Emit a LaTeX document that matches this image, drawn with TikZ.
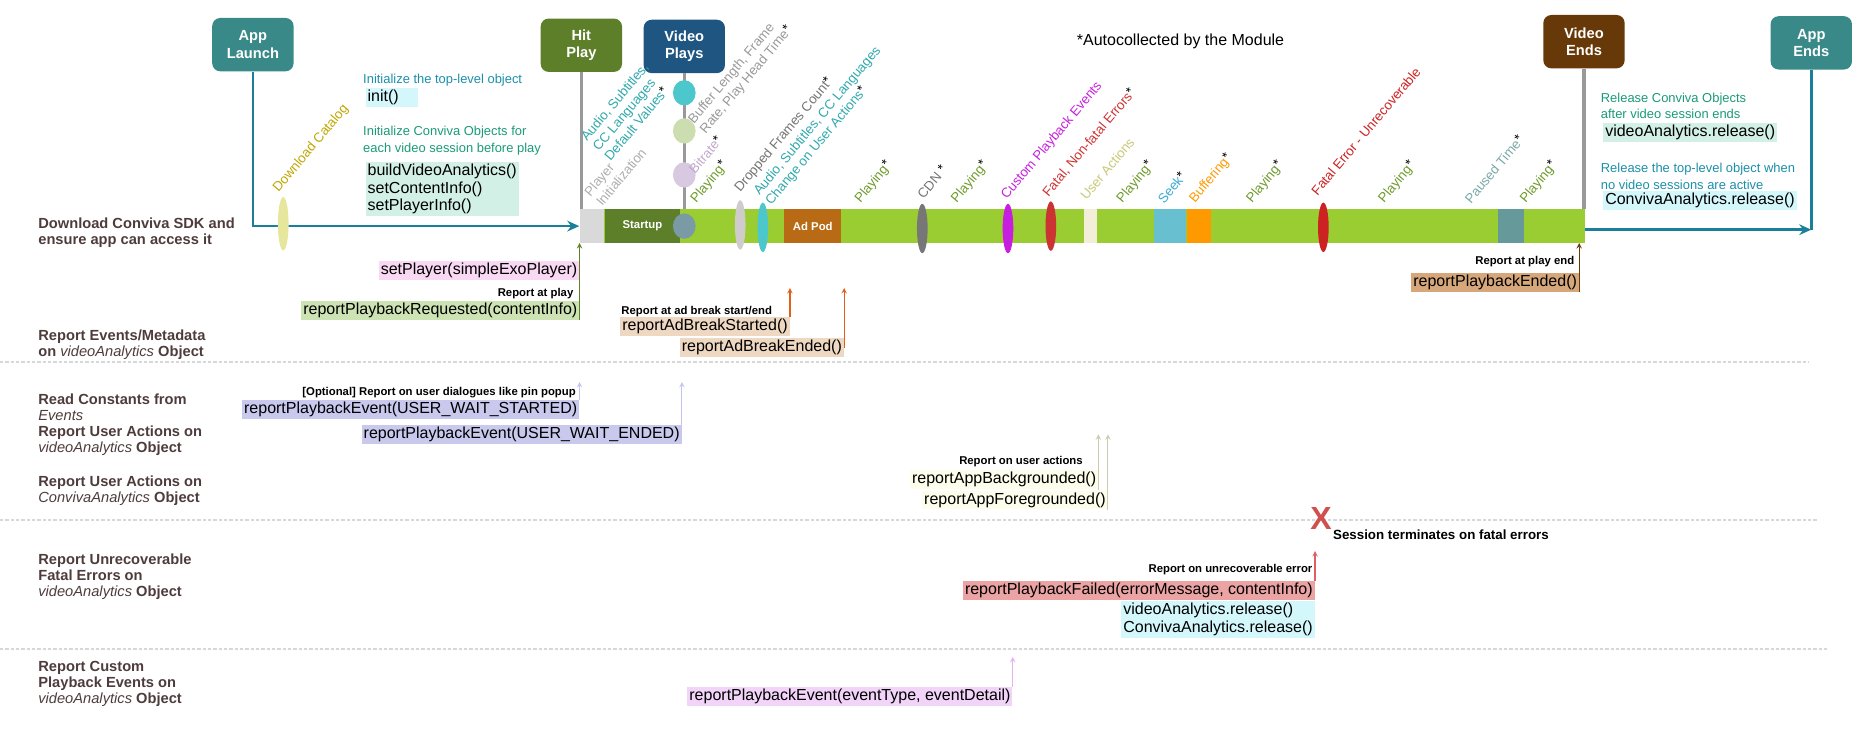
\documentclass[tikz,border=0pt]{standalone}
\usepackage{fontspec}
\setmainfont{Liberation Sans}
\usetikzlibrary{shapes.geometric, arrows, arrows.meta}
\usetikzlibrary{arrows,shapes,positioning}

\definecolor{tealbox}{HTML}{3A8989}
\definecolor{hitc}{HTML}{5E7F2A}
\definecolor{vplayc}{HTML}{1E5581}
\definecolor{vendc}{HTML}{673808}
\definecolor{flowc}{HTML}{1B7F9B}
\definecolor{polec}{HTML}{999999}
\definecolor{barc}{HTML}{9ACD32}
\definecolor{adc}{HTML}{B86A15}
\definecolor{seekc}{HTML}{67BFD0}
\definecolor{buffc}{HTML}{FF9900}
\definecolor{pausec}{HTML}{669999}
\definecolor{uactc}{HTML}{F2EED8}
\definecolor{pinitc}{HTML}{D9D9D9}
\definecolor{lanec}{HTML}{4E3C3C}
\definecolor{sepc}{HTML}{D8D8D8}
\definecolor{bluetxt}{HTML}{1A8FA8}
\definecolor{greentxt}{HTML}{1A9A78}
\definecolor{playc}{HTML}{6E9A2A}
\definecolor{dlc}{HTML}{BFA600}
\definecolor{audioc}{HTML}{30A8AC}
\definecolor{bitc}{HTML}{C2A8CC}
\definecolor{magc}{HTML}{C81EE0}
\definecolor{redc}{HTML}{CC3333}
\definecolor{fatalc}{HTML}{CC2222}
\definecolor{uatxt}{HTML}{C8C878}
\definecolor{seektxt}{HTML}{3AAAD0}
\definecolor{pausetxt}{HTML}{7AA8A8}
\definecolor{cyanbox}{HTML}{D4F7FC}
\definecolor{mintbox}{HTML}{D2F0E6}
\definecolor{pinkbox}{HTML}{F8D8F2}
\definecolor{reqbox}{HTML}{CDE3B3}
\definecolor{peachbox}{HTML}{EED8C2}
\definecolor{tanbox}{HTML}{D6A77A}
\definecolor{lavbox}{HTML}{C9C9EE}
\definecolor{yelbox}{HTML}{FDFDEB}
\definecolor{salmonbox}{HTML}{EBA3A3}
\definecolor{custbox}{HTML}{F1D4F8}
\definecolor{dot1c}{HTML}{4CC8CC}
\definecolor{dot2c}{HTML}{CCDDB0}
\definecolor{dot3c}{HTML}{D8C8E0}
\definecolor{dot4c}{HTML}{7A9AA6}
\definecolor{dlfill}{HTML}{E6E69C}
\definecolor{dropfill}{HTML}{D0CCCC}
\definecolor{cdnfill}{HTML}{777777}
\definecolor{adarrow}{HTML}{E0601A}
\definecolor{lavarrow}{HTML}{C3C3F0}
\definecolor{uaarrow}{HTML}{CCCCB0}
\definecolor{errarrow}{HTML}{E06060}
\definecolor{custarrow}{HTML}{E8B0F5}
\definecolor{xc}{HTML}{D05050}

\tikzstyle{milestone} = [rectangle, rounded corners=6pt, minimum width=61pt, minimum height=40pt, text centered, align=center, text=white, font=\bfseries\fontsize{11}{13}\selectfont]
\tikzstyle{seg} = [rectangle, minimum height=25pt, inner sep=0pt, text=white, font=\bfseries\fontsize{8.5}{10}\selectfont]
\tikzstyle{evdot} = [ellipse, minimum width=8pt, minimum height=37pt, inner sep=0pt]
\tikzstyle{bigdot} = [ellipse, minimum width=17pt, minimum height=19pt, inner sep=0pt]
\tikzstyle{evlabel} = [rotate=50, anchor=base west, inner sep=0pt, align=left, font=\fontsize{10}{11.5}\selectfont]
\tikzstyle{call} = [rectangle, inner sep=1.5pt, align=left, font=\fontsize{12}{13}\selectfont]
\tikzstyle{note} = [inner sep=0pt, font=\bfseries\fontsize{8.5}{10}\selectfont]
\tikzstyle{desc} = [inner sep=0pt, anchor=west, align=left, font=\fontsize{9.7}{12.5}\selectfont]
\tikzstyle{lane} = [inner sep=0pt, anchor=west, align=left, text=lanec, font=\bfseries\fontsize{11}{12}\selectfont]
\tikzstyle{arrow} = [thick,->,>=stealth]
\tikzstyle{pole} = [line width=2.5pt, color=polec]
\tikzstyle{lanesep} = [line width=1.5pt, color=sepc, dash pattern=on 2.5pt off 1.5pt]
\tikzstyle{flow} = [line width=2pt, color=flowc]

\newcommand{\autostar}{{\color{black}\raisebox{1pt}{*}}}
\newcommand{\obj}[1]{{\mdseries\itshape #1}}

\begin{document}
\begin{tikzpicture}[x=0.8925pt, y=-0.8925pt]
\useasboundingbox (0,0) rectangle (1568,616);

% milestones
\node (launch) [milestone, fill=tealbox] at (212.5,37.5) {App\\Launch};
\node (hit) [milestone, fill=hitc] at (488.5,38) {Hit\\Play};
\node (vplay) [milestone, fill=vplayc] at (575,39) {Video\\Plays};
\node (vend) [milestone, fill=vendc] at (1331,35) {Video\\Ends};
\node (aend) [milestone, fill=tealbox] at (1522,36) {App\\Ends};

\node (autonote) [font=\fontsize{12}{14}\selectfont] at (992,35) {*Autocollected by the Module};

% timeline
\node (bar) [rectangle, fill=barc, inner sep=0pt, minimum width=754.2pt, minimum height=25pt] at (909.5,190) {};
\node (pinit) [seg, fill=pinitc, minimum width=18.7pt, anchor=west] at (bar.west) {};
\node (startup) [seg, fill=hitc, minimum width=56.2pt, right=0pt of pinit] {Startup};
\node (adpod) [seg, fill=adc, minimum width=42.8pt] at (683,190) {Ad Pod};
\node (uact) [seg, fill=uactc, minimum width=9.8pt] at (916.5,190) {};
\node (seek) [seg, fill=seekc, minimum width=24pt] at (983.5,190) {};
\node (buff) [seg, fill=buffc, minimum width=17.9pt, right=0pt of seek] {};
\node (paused) [seg, fill=pausec, minimum width=19.6pt] at (1270,190) {};

\draw [pole] (hit) -- (hit.south |- bar.north);
\draw [pole] (vplay) -- (vplay.south |- bar.north);
\draw [pole] (vend) -- (vend.south |- bar.north);

\draw [flow, -{Stealth[length=9pt,width=8pt]}] (launch) |- (bar.west);
\coordinate (exit) at (aend.south |- 0,193);
\draw [flow] (aend) -- (exit);
\draw [flow, -{Stealth[length=9pt,width=8pt]}] (bar.east |- exit) -- (exit);

% events on the bar
\node (vdot1) [bigdot, fill=dot1c] at (575,78) {};
\node (vdot2) [bigdot, fill=dot2c] at (575,110) {};
\node (vdot3) [bigdot, fill=dot3c] at (575,147) {};
\node (vdot4) [bigdot, fill=dot4c] at (575,190) {};

\node (edl) [evdot, minimum height=40pt, fill=dlfill] at (238,188) {};
\node (edrop) [evdot, fill=dropfill] at (622,189) {};
\node (eaudio) [evdot, fill=dot1c] at (641,191) {};
\node (ecdn) [evdot, fill=cdnfill] at (775,192) {};
\node (ecust) [evdot, fill=magc] at (847,192) {};
\node (enonfatal) [evdot, fill=redc] at (883,190) {};
\node (efatal) [evdot, fill=fatalc] at (1112,191) {};

% labels over the bar
\node (ldl) [evlabel, text=dlc] at (234,162) {Download Catalog};
\node (lpinit) [evlabel, text=polec!80] at (506,174) {Player\\Initialization};
\node (ldefault) [evlabel, text=audioc] at (513,136) {Audio, Subtitles,\\CC Languages\\Default Values\autostar};
\node (lbuffer) [evlabel, text=polec] at (593,113) {Buffer Length, Frame\\Rate, Play Head Time\autostar};
\node (lbit) [evlabel, text=bitc] at (584,147) {Bitrate\autostar};
\node (ldrop) [evlabel, text=black!55] at (622,162) {Dropped Frames Count\autostar};
\node (laudio) [evlabel, text=audioc] at (648,173) {Audio, Subtitles, CC Languages\\Change on User Actions\autostar};
\node (lcdn) [evlabel, text=black!55] at (776,168) {CDN \autostar};
\node (lcust) [evlabel, text=magc] at (846,168) {Custom Playback Events};
\node (lnonfatal) [evlabel, text=redc] at (881,166) {Fatal, Non-fatal Errors\autostar};
\node (luact) [evlabel, text=uatxt] at (913,169) {User Actions};
\node (lseek) [evlabel, text=seektxt] at (978,172) {Seek\autostar};
\node (lbuff) [evlabel, text=buffc] at (1004,171) {Buffering\autostar};
\node (lfatal) [evlabel, text=fatalc] at (1107,165) {Fatal Error - Unrecoverable};
\node (lpause) [evlabel, text=pausetxt] at (1236,172) {Paused Time\autostar};
\foreach \px [count=\i] in {585,723,804,943,1052,1163,1282}
  \node (lplay\i) [evlabel, text=playc] at (\px,171) {Playing\autostar};

% init / release
\node (inittxt) [desc, text=bluetxt] at (305,67) {Initialize the top-level object};
\node (initcall) [call, fill=cyanbox, anchor=north west, text width=36pt] at (307,74) {init()};
\node (buildtxt) [desc, text=greentxt] at (305,118) {Initialize Conviva Objects for\\each video session before play};
\node (buildcall) [call, fill=mintbox, anchor=north west] at (307,136) {buildVideoAnalytics()\\setContentInfo()\\setPlayerInfo()};

\node (reltxt) [desc, text=greentxt] at (1345,89) {Release Conviva Objects\\after video session ends};
\node (relcall) [call, fill=mintbox, anchor=north west] at (1347,103) {videoAnalytics.release()};
\node (topreltxt) [desc, text=bluetxt] at (1345,148) {Release the top-level object when\\no video sessions are active};
\node (toprelcall) [call, fill=cyanbox, anchor=north west] at (1347,160) {ConvivaAnalytics.release()};

% lanes
\node (lsdk) [lane] at (32,195.5) {Download Conviva SDK and\\ensure app can access it};
\node (lmeta) [lane] at (32,290) {Report Events/Metadata\\on \obj{videoAnalytics} Object};
\node (lconst) [lane] at (32,357) {Read Constants from\\\obj{Events}\\Report User Actions on\\\obj{videoAnalytics} Object};
\node (lconv) [lane] at (32,412.5) {Report User Actions on\\\obj{ConvivaAnalytics} Object};
\node (lunrec) [lane] at (32,485) {Report Unrecoverable\\Fatal Errors on\\\obj{videoAnalytics} Object};
\node (lcustom) [lane] at (32,574.5) {Report Custom\\Playback Events on\\\obj{videoAnalytics} Object};

\draw [lanesep] (0,304) -- (1520,304);
\draw [lanesep] (0,437) -- (1528,437);
\draw [lanesep] (0,545) -- (1535,545);

% events / metadata
\node (setplayer) [call, fill=pinkbox, anchor=east] at (487,227) {setPlayer(simpleExoPlayer)};
\node (playnote) [note, anchor=base east] at (482,249) {Report at play};
\node (reqcall) [call, fill=reqbox, anchor=east] at (487,261) {reportPlaybackRequested(contentInfo)};
\draw [arrow, color=hitc] (reqcall.south east) -- (reqcall.south east |- bar.south);

\coordinate (adtop) at (0,242);
\node (adnote) [note, anchor=base west] at (522,264) {Report at ad break start/end};
\node (adstart) [call, fill=peachbox, anchor=north west] at (521,266) {reportAdBreakStarted()};
\node (adend) [call, fill=peachbox, anchor=north west] at (571,284) {reportAdBreakEnded()};
\draw [arrow, color=adarrow] (adstart.north east) -- (adstart.north east |- adtop);
\draw [arrow, color=adarrow] (adend.east) -- (adend.east |- adtop);

\node (endnote) [note, anchor=base east] at (1323,222) {Report at play end};
\node (endcall) [call, fill=tanbox, anchor=north east] at (1327,229) {reportPlaybackEnded()};
\draw [arrow, color=vendc] (endcall.south east) -- (endcall.south east |- bar.south);

% user actions
\coordinate (waittop) at (0,321);
\node (optnote) [note, anchor=base east] at (484,332) {[Optional] Report on user dialogues like pin popup};
\node (waitstart) [call, fill=lavbox, anchor=north east] at (487,336) {reportPlaybackEvent(USER\_WAIT\_STARTED)};
\node (waitend) [call, fill=lavbox, anchor=north east] at (573,357) {reportPlaybackEvent(USER\_WAIT\_ENDED)};
\draw [arrow, color=lavarrow] (waitstart.north east) -- (waitstart.north east |- waittop);
\draw [arrow, color=lavarrow] (waitend.north east) -- (waitend.north east |- waittop);

\coordinate (bgtop) at (0,365);
\node (uanote) [note, anchor=base east] at (910,390) {Report on user actions};
\node (bgcall) [call, fill=yelbox, anchor=north east] at (923,395) {reportAppBackgrounded()};
\node (fgcall) [call, fill=yelbox, anchor=north east] at (931,412) {reportAppForegrounded()};
\draw [arrow, color=uaarrow] (bgcall.south east) -- (bgcall.south east |- bgtop);
\draw [arrow, color=uaarrow] (fgcall.south east) -- (fgcall.south east |- bgtop);

% fatal errors
\node (xmark) [text=xc, font=\bfseries\fontsize{24}{24}\selectfont, inner sep=0pt] at (1110,436) {X};
\node (sessnote) [note, anchor=west, font=\bfseries\fontsize{10}{12}\selectfont] at (1120,449) {Session terminates on fatal errors};
\coordinate (errtop) at (0,463);
\node (errnote) [note, anchor=base east] at (1103,481) {Report on unrecoverable error};
\node (failcall) [call, fill=salmonbox, anchor=north east] at (1105,488) {reportPlaybackFailed(errorMessage, contentInfo)};
\node (relboth) [call, fill=cyanbox, anchor=north east] at (1105,505) {videoAnalytics.release()\\ConvivaAnalytics.release()};
\draw [arrow, color=errarrow] (failcall.north east) -- (failcall.north east |- errtop);

% custom events
\coordinate (custtop) at (0,552);
\node (custcall) [call, fill=custbox, anchor=north east] at (851,577) {reportPlaybackEvent(eventType, eventDetail)};
\draw [arrow, color=custarrow] (custcall.north east) -- (custcall.north east |- custtop);

\end{tikzpicture}
\end{document}
